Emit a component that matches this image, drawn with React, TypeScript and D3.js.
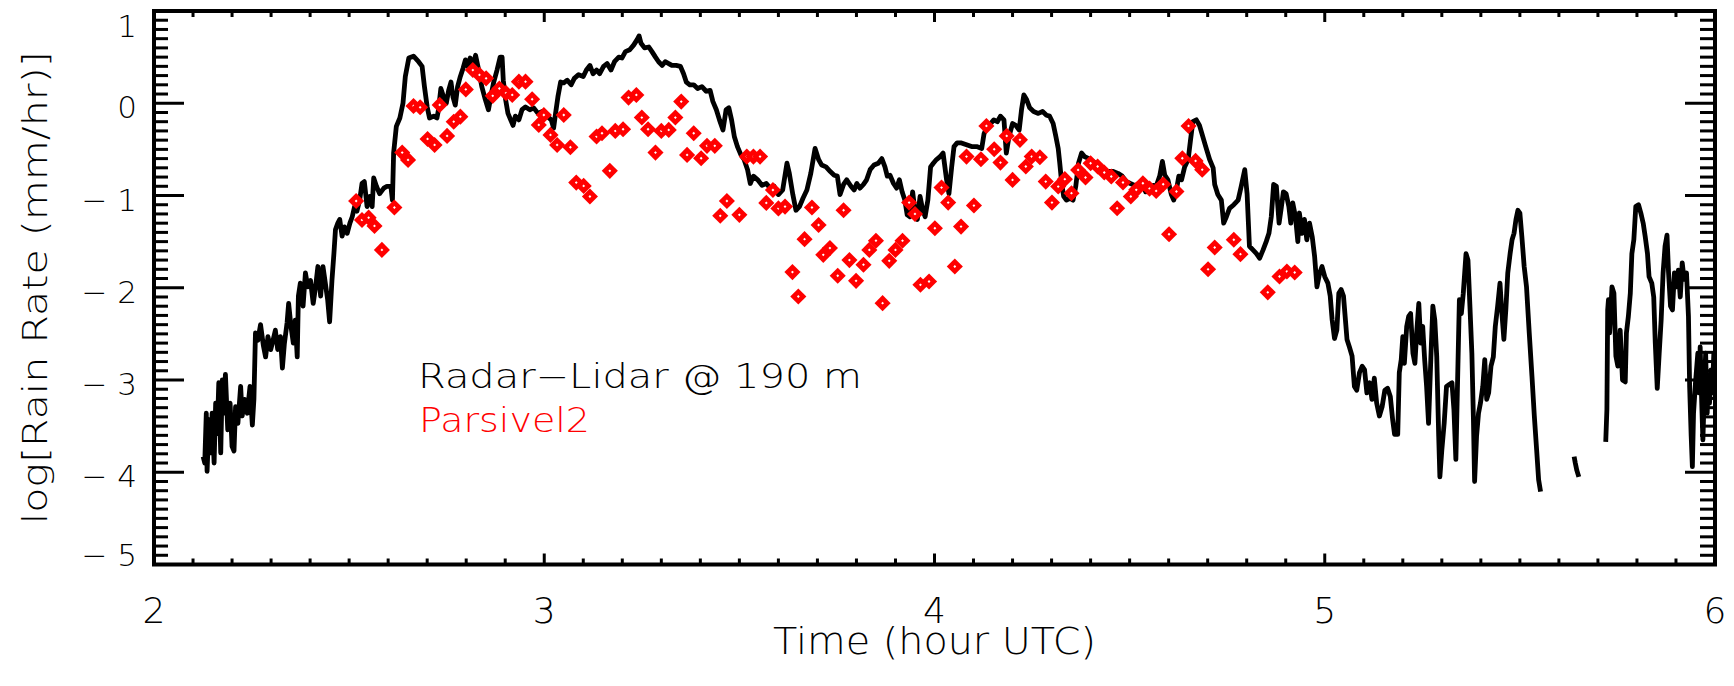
import React, { useEffect } from 'react';
import * as d3 from 'd3';

// Radar-Lidar rain rate, log10(mm/hr) vs time (hour UTC), three continuous segments
const radarLidarSeg1: [number, number][] = [
[2.126,-3.83],[2.130,-3.90],[2.134,-3.36],[2.136,-3.99],[2.141,-3.43],[2.145,-3.79],[2.149,-3.36],[2.154,-3.90],[2.158,-3.25],[2.162,-3.58],[2.166,-3.03],[2.171,-3.79],[2.175,-3.00],[2.179,-3.36],[2.183,-2.94],[2.189,-3.54],[2.195,-3.25],[2.200,-3.72],[2.205,-3.77],[2.209,-3.29],[2.215,-3.47],[2.222,-3.07],[2.226,-3.39],[2.232,-3.21],[2.239,-3.36],[2.246,-3.07],[2.252,-3.49],[2.256,-3.21],[2.260,-2.49],[2.266,-2.57],[2.273,-2.40],[2.280,-2.62],[2.286,-2.75],[2.292,-2.53],[2.299,-2.67],[2.305,-2.57],[2.311,-2.46],[2.317,-2.67],[2.324,-2.53],[2.329,-2.87],[2.334,-2.61],[2.341,-2.38],[2.345,-2.17],[2.351,-2.42],[2.357,-2.60],[2.362,-2.35],[2.367,-2.75],[2.370,-2.09],[2.375,-1.95],[2.382,-2.20],[2.388,-1.84],[2.394,-1.99],[2.401,-1.92],[2.408,-2.17],[2.414,-1.99],[2.420,-1.77],[2.427,-2.09],[2.433,-1.77],[2.439,-1.95],[2.445,-2.13],[2.450,-2.37],[2.456,-1.92],[2.461,-1.63],[2.465,-1.37],[2.471,-1.30],[2.476,-1.26],[2.482,-1.44],[2.488,-1.34],[2.495,-1.41],[2.502,-1.30],[2.508,-1.23],[2.514,-1.12],[2.520,-1.17],[2.527,-1.05],[2.533,-0.87],[2.539,-0.85],[2.546,-1.12],[2.553,-1.01],[2.559,-1.12],[2.563,-0.81],[2.570,-0.90],[2.578,-0.98],[2.589,-0.92],[2.597,-0.90],[2.607,-0.90],[2.611,-1.05],[2.614,-0.54],[2.621,-0.25],[2.630,-0.16],[2.638,0.00],[2.644,0.29],[2.653,0.49],[2.665,0.51],[2.678,0.45],[2.687,0.40],[2.693,0.18],[2.700,-0.04],[2.706,-0.16],[2.717,-0.14],[2.725,-0.16],[2.729,-0.07],[2.735,0.16],[2.742,0.07],[2.749,0.00],[2.755,0.14],[2.761,0.23],[2.766,0.07],[2.772,-0.02],[2.778,0.18],[2.785,0.29],[2.792,0.38],[2.798,0.47],[2.804,0.40],[2.810,0.49],[2.817,0.41],[2.824,0.52],[2.832,0.36],[2.840,0.18],[2.849,0.04],[2.857,-0.07],[2.863,0.07],[2.870,0.22],[2.879,0.36],[2.887,0.50],[2.892,0.50],[2.895,0.25],[2.901,0.04],[2.907,-0.11],[2.914,-0.18],[2.920,-0.24],[2.926,-0.14],[2.935,-0.18],[2.943,-0.07],[2.952,-0.04],[2.963,-0.07],[2.973,-0.05],[2.984,-0.11],[2.995,-0.09],[3.007,-0.14],[3.018,-0.18],[3.024,-0.27],[3.029,-0.11],[3.035,0.07],[3.042,0.23],[3.050,0.22],[3.059,0.25],[3.069,0.20],[3.077,0.27],[3.088,0.31],[3.100,0.29],[3.108,0.36],[3.117,0.41],[3.125,0.32],[3.134,0.36],[3.142,0.32],[3.152,0.40],[3.161,0.43],[3.171,0.36],[3.180,0.45],[3.191,0.50],[3.199,0.49],[3.208,0.56],[3.219,0.58],[3.229,0.63],[3.238,0.69],[3.243,0.73],[3.248,0.65],[3.257,0.60],[3.268,0.61],[3.276,0.56],[3.285,0.50],[3.293,0.45],[3.302,0.41],[3.310,0.45],[3.319,0.43],[3.327,0.41],[3.338,0.41],[3.349,0.40],[3.357,0.32],[3.364,0.23],[3.373,0.20],[3.383,0.20],[3.393,0.16],[3.404,0.18],[3.415,0.13],[3.425,0.14],[3.432,0.02],[3.441,-0.07],[3.449,-0.18],[3.458,-0.29],[3.466,-0.07],[3.473,-0.05],[3.480,-0.18],[3.487,-0.36],[3.495,-0.47],[3.504,-0.56],[3.512,-0.61],[3.521,-0.72],[3.528,-0.87],[3.536,-0.79],[3.547,-0.83],[3.558,-0.89],[3.569,-0.87],[3.579,-0.92],[3.589,-0.90],[3.600,-0.99],[3.611,-0.94],[3.622,-0.65],[3.628,-0.76],[3.637,-0.99],[3.645,-1.16],[3.654,-1.12],[3.663,-1.03],[3.673,-0.94],[3.683,-0.76],[3.694,-0.49],[3.703,-0.61],[3.711,-0.67],[3.722,-0.69],[3.733,-0.74],[3.743,-0.78],[3.751,-0.79],[3.758,-0.99],[3.767,-0.88],[3.775,-0.83],[3.786,-0.90],[3.794,-0.94],[3.801,-0.87],[3.809,-0.92],[3.818,-0.88],[3.826,-0.83],[3.835,-0.72],[3.845,-0.67],[3.856,-0.65],[3.865,-0.60],[3.873,-0.69],[3.879,-0.79],[3.886,-0.78],[3.895,-0.87],[3.903,-0.92],[3.910,-0.83],[3.917,-0.96],[3.924,-1.05],[3.930,-1.21],[3.937,-1.23],[3.944,-0.96],[3.950,-1.17],[3.956,-1.26],[3.963,-1.01],[3.970,-1.16],[3.976,-1.23],[3.983,-1.05],[3.990,-0.69],[3.997,-0.65],[4.005,-0.61],[4.014,-0.58],[4.022,-0.54],[4.031,-0.83],[4.037,-0.98],[4.044,-0.69],[4.050,-0.47],[4.058,-0.43],[4.069,-0.43],[4.082,-0.45],[4.095,-0.47],[4.108,-0.47],[4.121,-0.49],[4.127,-0.33],[4.135,-0.25],[4.144,-0.22],[4.152,-0.18],[4.161,-0.20],[4.169,-0.14],[4.178,-0.18],[4.184,-0.54],[4.191,-0.36],[4.200,-0.22],[4.208,-0.24],[4.217,-0.29],[4.223,-0.07],[4.229,0.09],[4.236,0.04],[4.244,-0.05],[4.254,-0.09],[4.266,-0.11],[4.277,-0.09],[4.287,-0.13],[4.295,-0.14],[4.304,-0.22],[4.311,-0.36],[4.317,-0.49],[4.321,-0.65],[4.326,-0.87],[4.331,-1.01],[4.338,-1.05],[4.347,-1.03],[4.355,-1.05],[4.362,-0.90],[4.369,-0.65],[4.377,-0.54],[4.385,-0.58],[4.396,-0.60],[4.406,-0.63],[4.419,-0.67],[4.432,-0.72],[4.445,-0.74],[4.458,-0.74],[4.470,-0.76],[4.481,-0.79],[4.492,-0.85],[4.502,-0.87],[4.513,-0.89],[4.524,-0.92],[4.533,-0.83],[4.541,-0.96],[4.550,-0.92],[4.560,-0.89],[4.568,-0.90],[4.577,-0.79],[4.584,-0.63],[4.590,-0.78],[4.598,-0.83],[4.607,-0.99],[4.613,-1.05],[4.620,-0.94],[4.626,-0.79],[4.633,-0.83],[4.641,-0.69],[4.650,-0.61],[4.656,-0.40],[4.662,-0.20],[4.671,-0.18],[4.679,-0.24],[4.686,-0.34],[4.695,-0.47],[4.705,-0.61],[4.714,-0.70],[4.718,-0.88],[4.726,-0.99],[4.735,-1.05],[4.741,-1.30],[4.748,-1.23],[4.756,-1.14],[4.767,-1.10],[4.778,-1.05],[4.786,-0.90],[4.795,-0.72],[4.801,-0.98],[4.807,-1.55],[4.816,-1.59],[4.825,-1.63],[4.833,-1.68],[4.842,-1.59],[4.850,-1.50],[4.857,-1.41],[4.863,-1.23],[4.869,-0.88],[4.876,-0.90],[4.883,-1.30],[4.889,-1.12],[4.894,-0.96],[4.901,-0.98],[4.908,-1.12],[4.913,-1.30],[4.918,-1.08],[4.925,-1.23],[4.931,-1.50],[4.935,-1.19],[4.942,-1.41],[4.948,-1.26],[4.954,-1.48],[4.961,-1.30],[4.968,-1.45],[4.974,-1.66],[4.980,-1.99],[4.987,-1.84],[4.993,-1.77],[5.000,-1.88],[5.008,-1.95],[5.014,-2.09],[5.019,-2.35],[5.025,-2.55],[5.031,-2.46],[5.036,-2.06],[5.042,-2.02],[5.048,-2.09],[5.053,-2.35],[5.057,-2.56],[5.063,-2.64],[5.070,-2.74],[5.076,-3.07],[5.082,-3.11],[5.089,-2.92],[5.096,-2.85],[5.102,-2.89],[5.108,-3.14],[5.115,-3.03],[5.121,-3.21],[5.127,-2.98],[5.133,-3.25],[5.140,-3.39],[5.147,-3.29],[5.154,-3.11],[5.161,-3.09],[5.168,-3.18],[5.174,-3.43],[5.179,-3.59],[5.187,-3.59],[5.191,-2.92],[5.196,-2.78],[5.200,-2.53],[5.204,-2.82],[5.210,-2.42],[5.215,-2.31],[5.220,-2.28],[5.226,-2.71],[5.231,-2.82],[5.236,-2.46],[5.241,-2.17],[5.246,-2.60],[5.251,-2.42],[5.256,-2.78],[5.261,-3.07],[5.266,-3.47],[5.272,-2.75],[5.277,-2.20],[5.282,-2.35],[5.287,-2.75],[5.292,-3.61],[5.295,-4.05],[5.300,-3.76],[5.306,-3.47],[5.312,-3.07],[5.319,-3.05],[5.326,-3.03],[5.331,-3.32],[5.336,-3.86],[5.341,-2.89],[5.345,-2.13],[5.350,-2.28],[5.355,-2.06],[5.362,-1.63],[5.367,-1.70],[5.372,-2.20],[5.377,-2.71],[5.381,-3.43],[5.384,-4.10],[5.389,-3.61],[5.394,-3.36],[5.399,-3.25],[5.405,-3.07],[5.410,-2.78],[5.415,-3.21],[5.420,-3.14],[5.426,-2.85],[5.432,-2.75],[5.437,-2.42],[5.443,-2.20],[5.449,-1.95],[5.454,-2.28],[5.459,-2.56],[5.464,-2.24],[5.469,-1.84],[5.475,-1.63],[5.480,-1.48],[5.485,-1.41],[5.490,-1.26],[5.495,-1.16],[5.500,-1.19],[5.505,-1.44],[5.511,-1.77],[5.517,-1.99],[5.524,-2.49],[5.531,-2.96],[5.537,-3.39],[5.543,-3.76],[5.548,-4.08],[5.553,-4.21]
];
const radarLidarSeg2: [number, number][] = [
[5.639,-3.83],[5.642,-3.90],[5.646,-3.98],[5.651,-4.05]
];
const radarLidarSeg3: [number, number][] = [
[5.720,-3.67],[5.723,-3.32],[5.725,-2.24],[5.727,-2.13],[5.730,-2.49],[5.736,-1.99],[5.741,-2.06],[5.746,-2.74],[5.751,-2.85],[5.757,-2.46],[5.763,-3.00],[5.770,-3.02],[5.773,-2.49],[5.778,-2.31],[5.783,-2.06],[5.787,-1.63],[5.792,-1.48],[5.797,-1.12],[5.804,-1.10],[5.810,-1.19],[5.816,-1.30],[5.821,-1.44],[5.827,-1.63],[5.831,-1.88],[5.838,-1.95],[5.843,-2.10],[5.847,-2.60],[5.852,-3.09],[5.857,-2.71],[5.862,-2.35],[5.867,-1.84],[5.872,-1.55],[5.877,-1.43],[5.881,-1.84],[5.886,-2.20],[5.891,-2.24],[5.896,-1.84],[5.901,-1.99],[5.906,-1.81],[5.911,-2.10],[5.916,-1.73],[5.921,-1.91],[5.927,-1.84],[5.932,-2.31],[5.935,-3.07],[5.939,-3.61],[5.942,-3.94],[5.945,-3.36],[5.950,-3.03],[5.956,-2.71],[5.959,-3.14],[5.962,-2.64],[5.966,-3.25],[5.969,-3.65],[5.973,-3.07],[5.976,-2.71],[5.980,-3.36],[5.983,-2.96],[5.986,-3.25],[5.990,-2.89],[5.993,-3.14],[5.997,-2.71],[6.000,-3.00]
];

// Parsivel2 rain rate, log10(mm/hr) vs time (hour UTC)
const parsivel2: [number, number][] = [
[2.518,-1.06],[2.533,-1.265],[2.550,-1.24],[2.565,-1.33],[2.584,-1.59],[2.616,-1.13],[2.636,-0.535],[2.651,-0.614],[2.665,-0.03],[2.682,-0.044],[2.701,-0.387],[2.719,-0.452],[2.732,-0.018],[2.751,-0.354],[2.768,-0.20],[2.785,-0.145],[2.799,0.15],[2.817,0.36],[2.834,0.307],[2.851,0.27],[2.868,0.08],[2.885,0.16],[2.902,0.11],[2.918,0.09],[2.935,0.234],[2.952,0.234],[2.969,0.043],[2.986,-0.235],[2.999,-0.127],[3.016,-0.343],[3.033,-0.452],[3.050,-0.127],[3.067,-0.477],[3.082,-0.86],[3.101,-0.896],[3.117,-1.011],[3.134,-0.361],[3.148,-0.325],[3.168,-0.733],[3.182,-0.30],[3.202,-0.282],[3.216,0.061],[3.236,0.09],[3.250,-0.155],[3.266,-0.282],[3.285,-0.535],[3.300,-0.30],[3.319,-0.289],[3.336,-0.155],[3.351,0.018],[3.366,-0.56],[3.383,-0.325],[3.402,-0.596],[3.417,-0.462],[3.437,-0.462],[3.451,-1.22],[3.468,-1.06],[3.500,-1.21],[3.519,-0.578],[3.536,-0.578],[3.553,-0.578],[3.569,-1.08],[3.586,-0.94],[3.600,-1.14],[3.617,-1.12],[3.636,-1.83],[3.651,-2.095],[3.667,-1.473],[3.686,-1.13],[3.703,-1.32],[3.715,-1.643],[3.732,-1.57],[3.752,-1.87],[3.767,-1.16],[3.782,-1.70],[3.799,-1.925],[3.818,-1.75],[3.833,-1.59],[3.850,-1.49],[3.867,-2.167],[3.884,-1.708],[3.900,-1.59],[3.918,-1.49],[3.935,-1.077],[3.950,-1.20],[3.964,-1.968],[3.986,-1.932],[4.001,-1.355],[4.018,-0.914],[4.035,-1.077],[4.052,-1.77],[4.068,-1.337],[4.082,-0.578],[4.101,-1.109],[4.119,-0.607],[4.133,-0.246],[4.153,-0.499],[4.169,-0.643],[4.185,-0.354],[4.200,-0.831],[4.219,-0.397],[4.234,-0.686],[4.249,-0.578],[4.270,-0.585],[4.285,-0.849],[4.301,-1.077],[4.317,-0.903],[4.334,-0.823],[4.351,-0.975],[4.368,-0.723],[4.387,-0.805],[4.400,-0.65],[4.418,-0.686],[4.435,-0.751],[4.453,-0.794],[4.468,-1.138],[4.483,-0.859],[4.503,-1.011],[4.517,-0.939],[4.534,-0.867],[4.551,-0.925],[4.568,-0.95],[4.586,-0.878],[4.601,-1.42],[4.620,-0.957],[4.635,-0.596],[4.651,-0.246],[4.669,-0.625],[4.686,-0.72],[4.701,-1.80],[4.718,-1.564],[4.767,-1.48],[4.784,-1.636],[4.854,-2.05],[4.884,-1.878],[4.903,-1.824],[4.923,-1.835]
];

const xTickLabels = [2, 3, 4, 5, 6];
const yTickLabels = [1, 0, -1, -2, -3, -4, -5];
const legendLabels = ['Radar\u2212Lidar @ 190 m', 'Parsivel2'];
const xTitle = 'Time (hour UTC)';
const yTitle = 'log[Rain Rate (mm/hr)]';

const FONT = '"DejaVu Sans", sans-serif';

export default function App() {
  useEffect(() => {
    document.body.style.margin = '0';
  }, []);

  const W = 1734;
  const H = 686;
  const L = 154, R = 1715, T = 11, B = 564.5;
  const x = d3.scaleLinear().domain([2, 6]).range([L, R]);
  const y = d3.scaleLinear().domain([-5, 1]).range([B, T]);
  const line = d3.line<[number, number]>().x(d => x(d[0])).y(d => y(d[1]));
  const xMinor = d3.range(21, 60).map(i => i / 10).filter(v => Math.abs(v - Math.round(v)) > 1e-6);
  const yMinor = d3.range(-49, 10).map(i => i / 10).filter(v => Math.abs(v - Math.round(v)) > 1e-6);
  const diamond = d3.symbol().type(d3.symbolSquare).size(130)() as string;
  const fmt = (v: number) => (v < 0 ? '\u2212 ' + Math.abs(v) : String(v));
  // labels at the ends of the axis are nudged inside the figure as in the original
  const yLabelBaseline = (v: number) => (v === 1 ? 37 : v === -5 ? 566 : y(v) + 15);

  return (
    <svg width={W} height={H} viewBox={`0 0 ${W} ${H}`} style={{ position: 'absolute', left: 0, top: 0, background: '#fff' }}>
      <rect x={0} y={0} width={W} height={H} fill="#fff" />
      <defs>
        <clipPath id="plotClip">
          <rect x={L} y={T} width={R - L} height={B - T} />
        </clipPath>
      </defs>
      <g clipPath="url(#plotClip)">
        {[radarLidarSeg1, radarLidarSeg2, radarLidarSeg3].map((seg, i) => (
          <path key={i} d={line(seg) || ''} fill="none" stroke="#000" strokeWidth={4.8} strokeLinejoin="round" strokeLinecap="butt" />
        ))}
        {parsivel2.map((d, i) => (
          <g key={i} transform={`translate(${x(d[0])},${y(d[1])}) rotate(45)`}>
            <path d={diamond} fill="#ff0000" />
            <rect x={-1} y={-1} width={2} height={2} fill="#fff" />
          </g>
        ))}
      </g>
      {/* frame */}
      <rect x={L} y={T} width={R - L} height={B - T} fill="none" stroke="#000" strokeWidth={4} />
      {/* x ticks bottom & top */}
      {xTickLabels.map(v => (
        <g key={'xm' + v}>
          <line x1={x(v)} x2={x(v)} y1={B} y2={B - 11} stroke="#000" strokeWidth={3} />
          <line x1={x(v)} x2={x(v)} y1={T} y2={T + 11} stroke="#000" strokeWidth={3} />
        </g>
      ))}
      {xMinor.map(v => (
        <g key={'xn' + v}>
          <line x1={x(v)} x2={x(v)} y1={B} y2={B - 6} stroke="#000" strokeWidth={3} />
          <line x1={x(v)} x2={x(v)} y1={T} y2={T + 6} stroke="#000" strokeWidth={3} />
        </g>
      ))}
      {/* y ticks left & right */}
      {yTickLabels.map(v => (
        <g key={'ym' + v}>
          <line x1={L} x2={L + 30} y1={y(v)} y2={y(v)} stroke="#000" strokeWidth={3} />
          <line x1={R} x2={R - 30} y1={y(v)} y2={y(v)} stroke="#000" strokeWidth={3} />
        </g>
      ))}
      {yMinor.map(v => (
        <g key={'yn' + v}>
          <line x1={L} x2={L + 14} y1={y(v)} y2={y(v)} stroke="#000" strokeWidth={3} />
          <line x1={R} x2={R - 15} y1={y(v)} y2={y(v)} stroke="#000" strokeWidth={3} />
        </g>
      ))}
      {/* tick labels */}
      {xTickLabels.map(v => (
        <text key={'xl' + v} x={x(v)} y={623} fontFamily={FONT} fontWeight={200} fontSize={36} textAnchor="middle" fill="#000">{v}</text>
      ))}
      {yTickLabels.map(v => (
        <text key={'yl' + v} x={137} y={yLabelBaseline(v)} fontFamily={FONT} fontWeight={200} fontSize={31} textAnchor="end" fill="#000">{fmt(v)}</text>
      ))}
      {/* axis titles */}
      <text x={(L + R) / 2} y={654} fontFamily={FONT} fontWeight={200} fontSize={38} textAnchor="middle" textLength={323} lengthAdjust="spacingAndGlyphs" fill="#000">{xTitle}</text>
      <text transform={`translate(47,${(T + B) / 2}) rotate(-90)`} fontFamily={FONT} fontWeight={200} fontSize={33} textAnchor="middle" textLength={473} lengthAdjust="spacingAndGlyphs" fill="#000">{yTitle}</text>
      {/* legend */}
      <text x={418} y={388} fontFamily={FONT} fontWeight={200} fontSize={33} textLength={444} lengthAdjust="spacingAndGlyphs" fill="#000">{legendLabels[0]}</text>
      <text x={419} y={432} fontFamily={FONT} fontWeight={200} fontSize={33} textLength={171} lengthAdjust="spacingAndGlyphs" fill="#ff0000">{legendLabels[1]}</text>
    </svg>
  );
}
